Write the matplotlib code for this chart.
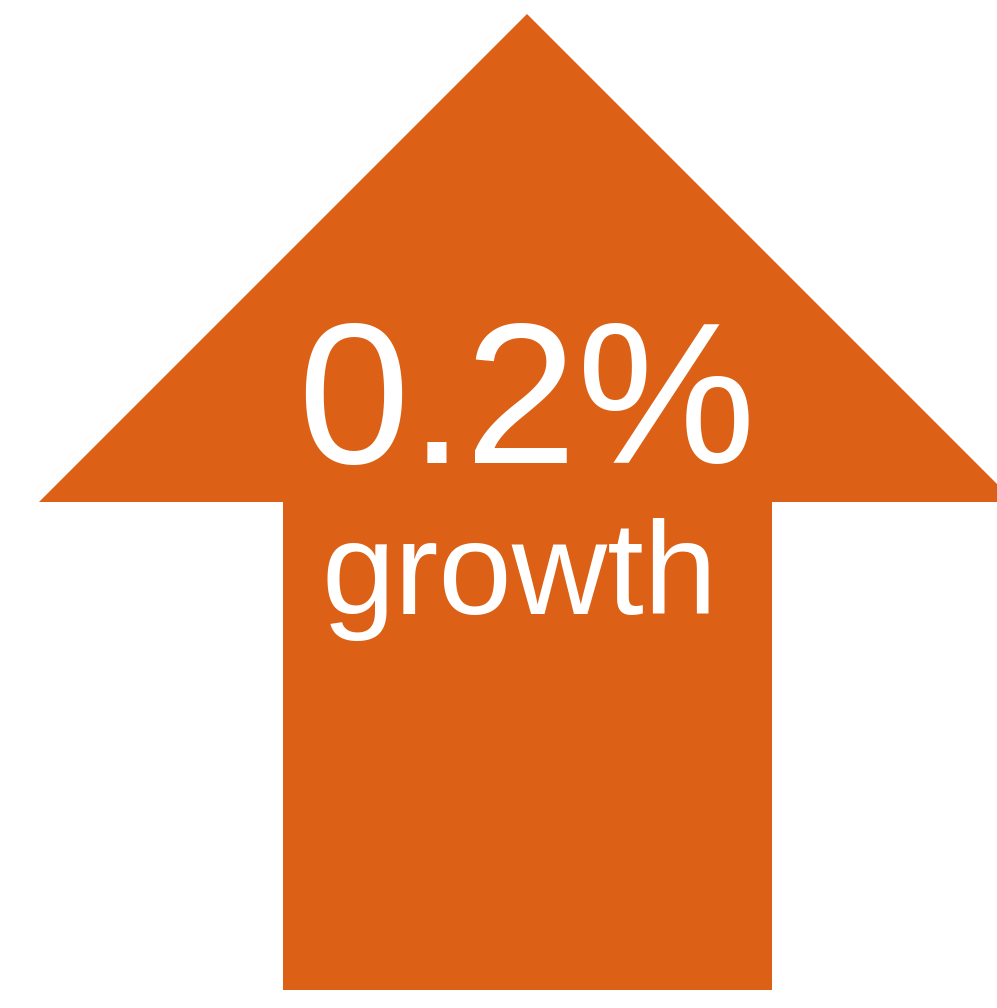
import matplotlib
matplotlib.use("Agg")
import matplotlib.pyplot as plt
from matplotlib.patches import Polygon

# Data
growth_values = [0.2]
growth_labels = ["growth"]

# Layout (pixel coordinates on a 997x1008 canvas, y downward)
W, H = 997, 1008
tip = (527, 14)
head_left, head_right, head_y = 39, 1015, 502
shaft_left, shaft_right, shaft_bottom = 283, 772, 990
color = "#DC6015"

fig = plt.figure(figsize=(W / 100, H / 100), dpi=100)
ax = fig.add_axes([0, 0, 1, 1])
ax.set_xlim(0, W)
ax.set_ylim(H, 0)
ax.axis("off")

arrow = Polygon(
    [tip, (head_right, head_y), (shaft_right, head_y), (shaft_right, shaft_bottom),
     (shaft_left, shaft_bottom), (shaft_left, head_y), (head_left, head_y)],
    closed=True, facecolor=color, edgecolor="none")
ax.add_patch(arrow)

ax.text(526, 463, f"{growth_values[0]:.1f}%", color="white", fontsize=145,
        family=["Liberation Sans", "DejaVu Sans"], ha="center", va="baseline")
ax.text(520, 614, growth_labels[0], color="white", fontsize=95,
        family=["Liberation Sans", "DejaVu Sans"], ha="center", va="baseline")

fig.savefig("out.png", dpi=100, facecolor="white")
